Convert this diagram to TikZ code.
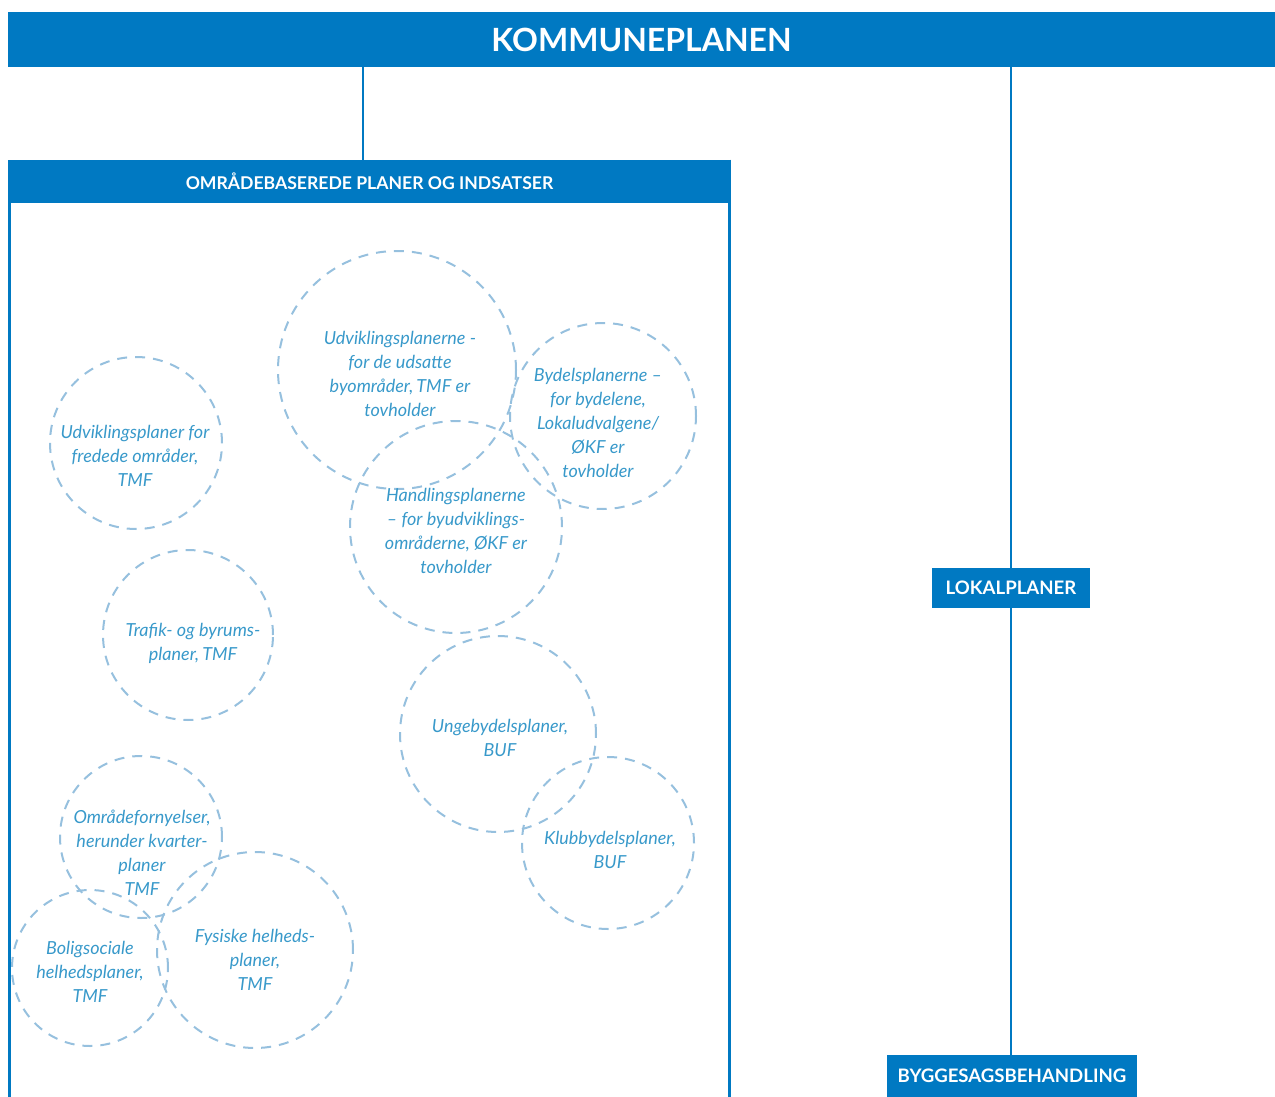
\documentclass[tikz,border=0pt]{standalone}
\usepackage{fontspec}
\setmainfont{Lato}
\usetikzlibrary{positioning}

\definecolor{planblue}{RGB}{0,121,194}
\definecolor{ringblue}{RGB}{150,192,222}
\definecolor{textblue}{RGB}{56,153,202}

\tikzset{
  bar/.style={fill=planblue, text=white, inner sep=0pt,
    font=\bfseries\fontsize{9.3}{11}\selectfont},
  ring/.style={circle, draw=ringblue, line width=1pt,
    dash pattern=on 5pt off 4pt, inner sep=0pt},
  plantext/.style={text=textblue, align=center, inner sep=0pt,
    font=\itshape\fontsize{9}{12}\selectfont},
  link/.style={draw=planblue, line width=1.2pt},
}

\begin{document}
\begin{tikzpicture}[x=0.5pt,y=-0.5pt]
  \useasboundingbox (0,0) rectangle (1275,1097);
  \coordinate (split) at (363,0);
  \coordinate (floor) at (0,1100);

  % headers
  \path
  node[bar, minimum width=633.5pt, minimum height=27.5pt,
       font=\bfseries\fontsize{16}{18}\selectfont] (kommune) at (641.5,39.5) {KOMMUNEPLANEN}
  node[bar, minimum width=359.5pt, minimum height=21.5pt,
       font=\bfseries\fontsize{8.8}{10}\selectfont] (omrhead) at (369.5,181.5) {OMRÅDEBASEREDE PLANER OG INDSATSER}
  node[bar, minimum width=79pt, minimum height=20pt] (lokal) at (1011,588) {LOKALPLANER}
  node[bar, minimum width=125pt, minimum height=21pt] (bygge) at (1012,1076) {BYGGESAGSBEHANDLING}
  ;

  % frame round the area plans
  \draw[link] (omrhead.north west |- floor) -- (omrhead.north west)
    (omrhead.north east) -- (omrhead.north east |- floor);

  \draw[link] (kommune.south -| split) -- (omrhead.north -| split);
  \draw[link] (kommune.south -| lokal.north) -- (lokal.north);
  \draw[link] (lokal.south) -- (lokal.south |- bygge.north);

  % dashed rings
  \path
  node[ring, minimum size=119pt] (udv)    at (397,370) {}
  node[ring, minimum size=93pt]  (bydel)  at (603,416) {}
  node[ring, minimum size=86pt]  (fred)   at (136,443) {}
  node[ring, minimum size=106pt] (handl)  at (456,527) {}
  node[ring, minimum size=85pt]  (trafik) at (188,635) {}
  node[ring, minimum size=98pt]  (unge)   at (498,734) {}
  node[ring, minimum size=86pt]  (klub)   at (608,843) {}
  node[ring, minimum size=81pt]  (omrf)   at (141,837) {}
  node[ring, minimum size=78pt]  (bolig)  at (90,968)  {}
  node[ring, minimum size=98pt]  (fysisk) at (255,950) {}
  ;

  \path
  node[plantext] (udv-t)    at (400,374) {Udviklingsplanerne -\\for de udsatte\\byområder,\thinspace TMF er\\tovholder}
  node[plantext] (bydel-t)  at (598,423) {Bydelsplanerne –\\for bydelene,\\Lokaludvalgene/\\ØKF er\\tovholder}
  node[plantext] (fred-t)   at (135,456) {Udviklingsplaner for\\fredede områder,\\TMF}
  node[plantext] (handl-t)  at (456,531) {Handlingsplanerne\\– for byudviklings-\\områderne, ØKF er\\tovholder}
  node[plantext] (trafik-t) at (193,643) {Trafik- og byrums-\\planer,\thinspace TMF}
  node[plantext] (unge-t)   at (500,738) {Ungebydelsplaner,\\BUF}
  node[plantext] (klub-t)   at (610,850) {Klubbydelsplaner,\\BUF}
  node[plantext] (omrf-t)   at (142,853) {Områdefornyelser,\\herunder kvarter-\\planer\\TMF}
  node[plantext] (bolig-t)  at (90,972)  {Boligsociale\\helhedsplaner,\\TMF}
  node[plantext] (fysisk-t) at (255,960) {Fysiske helheds-\\planer,\\TMF}
  ;
\end{tikzpicture}
\end{document}
